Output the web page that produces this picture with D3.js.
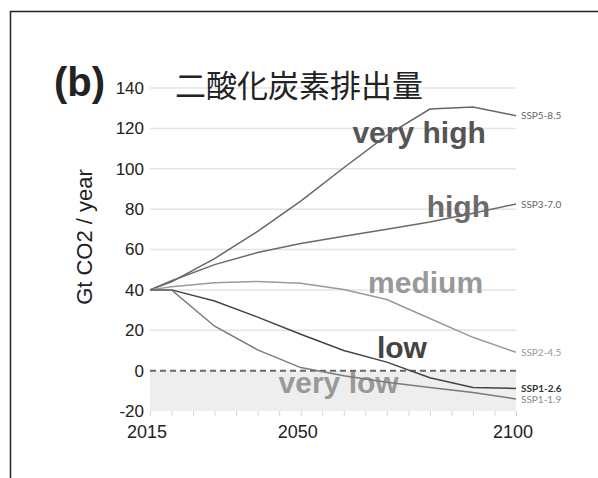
<!DOCTYPE html>
<html>
<head>
<meta charset="utf-8">
<script src="https://cdn.jsdelivr.net/npm/d3@7"></script>
<style>
  html, body { margin: 0; padding: 0; background: #fff; }
  svg { display: block; }
</style>
</head>
<body>
<svg id="chart" width="598" height="478"></svg>
<script>
// Emission pathways, Gt CO2 per year
const years = [2015, 2020, 2030, 2040, 2050, 2060, 2070, 2080, 2090, 2100];
const ssp585 = [40, 44, 55.5, 69, 84, 100.5, 116.5, 129.6, 130.6, 126.3];
const ssp370 = [40, 44.5, 52.5, 58.5, 63, 66.6, 70, 73.6, 78, 82.5];
const ssp245 = [40, 41.5, 43.5, 44.2, 43.3, 40.2, 35.2, 25.8, 16.5, 9.1];
const ssp126 = [40, 40, 34.5, 26.5, 18, 10, 4.2, -3.5, -8.3, -8.8];
const ssp119 = [40, 40, 22, 10.3, 1.5, -2.5, -5.8, -8.3, -10.8, -14];
const seriesNames = ["SSP5-8.5", "SSP3-7.0", "SSP2-4.5", "SSP1-2.6", "SSP1-1.9"];
const yTicks = [-20, 0, 20, 40, 60, 80, 100, 120, 140];
const xTicks = [2015, 2050, 2100];
const levelNames = ["very high", "high", "medium", "low", "very low"];

const series = [ssp585, ssp370, ssp245, ssp126, ssp119];
const lineColors = ["#666", "#6a6a6a", "#9a9a9a", "#444", "#7a7a7a"];
const tagColors = ["#666", "#666", "#999", "#333", "#888"];
const tagWeights = ["normal", "normal", "normal", "bold", "normal"];
const tagDy = [0, 0, 0, 0, 1];
const levelColors = ["#555", "#6b6b6b", "#999", "#444", "#999"];
// where each level name sits: [year, value] at the text baseline centre
const levelPos = [[2077.5, 112.7], [2086.6, 76], [2079, 38.4], [2073.5, 6.2], [2058.8, -11.1]];

const svg = d3.select("#chart");
const x = d3.scaleLinear().domain([2015, 2100]).range([150, 516]);
const y = d3.scaleLinear().domain([-20, 140]).range([411, 88]);

// panel frame (top and left edges)
svg.append("path")
  .attr("d", "M10.5,478 L10.5,11.5 L598,11.5")
  .attr("fill", "none").attr("stroke", "#222").attr("stroke-width", 1.5);

// negative-emissions band
svg.append("rect")
  .attr("x", x(2015)).attr("y", y(0))
  .attr("width", x(2100) - x(2015)).attr("height", y(-20) - y(0))
  .attr("fill", "#eeeeee");

// grid lines
svg.append("g").selectAll("line")
  .data(yTicks.filter(d => d > 0))
  .join("line")
  .attr("x1", x(2015)).attr("x2", x(2100))
  .attr("y1", d => y(d)).attr("y2", d => y(d))
  .attr("stroke", "#e4e4e4").attr("stroke-width", 1.5);

// y axis labels
const yAxis = d3.axisLeft(y).tickValues(yTicks).tickSize(0).tickPadding(6)
  .tickFormat(d => String(d));
const gy = svg.append("g").attr("transform", `translate(${x(2015)},0)`).call(yAxis);
gy.select(".domain").remove();
gy.selectAll("text")
  .attr("font-family", "Liberation Sans, Arial, sans-serif")
  .attr("font-size", 17).attr("fill", "#222");

// x axis: small 5-year ticks plus labels
const xAxis = d3.axisBottom(x).tickValues(d3.range(2015, 2101, 5)).tickSize(5).tickFormat("");
const gx = svg.append("g").attr("transform", `translate(0,${y(-20)})`).call(xAxis);
gx.select(".domain").remove();
gx.selectAll("line").attr("stroke", "#d4d4d4").attr("stroke-width", 1);
svg.append("g").selectAll("text")
  .data(xTicks)
  .join("text")
  .attr("x", d => x(d) - 3).attr("y", 438)
  .attr("text-anchor", "middle")
  .attr("font-family", "Liberation Sans, Arial, sans-serif")
  .attr("font-size", 18).attr("fill", "#222")
  .text(d => d);

// level names (drawn beneath the lines)
svg.append("g").selectAll("text")
  .data(levelNames)
  .join("text")
  .attr("x", (d, i) => x(levelPos[i][0]))
  .attr("y", (d, i) => y(levelPos[i][1]))
  .attr("text-anchor", "middle")
  .attr("font-family", "Liberation Sans, Arial, sans-serif")
  .attr("font-weight", "bold").attr("font-size", 30)
  .attr("fill", (d, i) => levelColors[i])
  .text(d => d);

// zero line
svg.append("line")
  .attr("x1", x(2015)).attr("x2", x(2100))
  .attr("y1", y(0)).attr("y2", y(0))
  .attr("stroke", "#666").attr("stroke-width", 2)
  .attr("stroke-dasharray", "6,4");

// pathways
const line = d3.line().x((d, i) => x(years[i])).y(d => y(d));
svg.append("g").selectAll("path")
  .data(series)
  .join("path")
  .attr("d", line)
  .attr("fill", "none")
  .attr("stroke", (d, i) => lineColors[i])
  .attr("stroke-width", 1.5);

// end tags
svg.append("g").selectAll("text")
  .data(seriesNames)
  .join("text")
  .attr("x", x(2100) + 5)
  .attr("y", (d, i) => y(series[i][series[i].length - 1]) + tagDy[i])
  .attr("dy", "0.35em")
  .attr("font-family", "Lato, sans-serif")
  .attr("font-size", 10)
  .attr("font-weight", (d, i) => tagWeights[i])
  .attr("fill", (d, i) => tagColors[i])
  .text(d => d);

// axis title
svg.append("text")
  .attr("transform", "translate(92,237) rotate(-90)")
  .attr("text-anchor", "middle")
  .attr("font-family", "Liberation Sans, Arial, sans-serif")
  .attr("font-size", 22).attr("fill", "#222")
  .text("Gt CO2 / year");

// panel letter and heading
svg.append("text")
  .attr("x", 54).attr("y", 96)
  .attr("font-family", "Liberation Sans, Arial, sans-serif")
  .attr("font-weight", "bold").attr("font-size", 40).attr("fill", "#222")
  .text("(b)");
svg.append("text")
  .attr("x", 175).attr("y", 97)
  .attr("font-family", "Noto Sans CJK JP, sans-serif")
  .attr("font-size", 31).attr("fill", "#222")
  .text("二酸化炭素排出量");
</script>
</body>
</html>
